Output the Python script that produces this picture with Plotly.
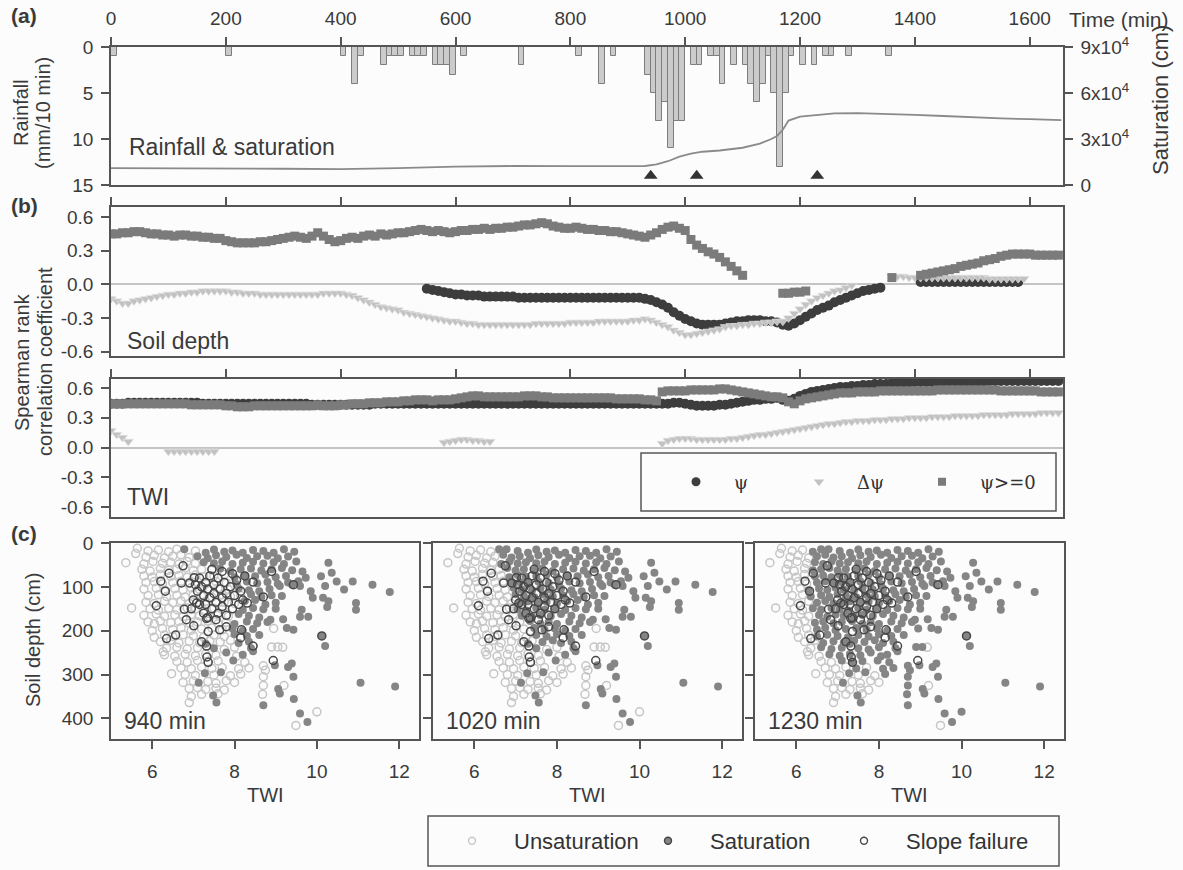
import plotly.graph_objects as go

# ---------------- DATA ----------------
# (a) rainfall bars (start time of 10-min interval) and saturation curve
rain_t = [0, 200, 400, 420, 430, 470, 480, 490, 500, 520, 530, 540, 560, 570, 580, 590, 610, 710, 810, 850, 870,
          930, 940, 950, 960, 970, 980, 990, 1010, 1020, 1040, 1050, 1060, 1080, 1100, 1110, 1120, 1130, 1140,
          1150, 1160, 1170, 1180, 1200, 1220, 1240, 1250, 1280, 1350]
rain_mm = [1, 1, 1, 4, 1, 2, 1, 1, 1, 1, 1, 1, 2, 2, 2, 3, 1, 2, 1, 4, 1,
           3, 5, 8, 6, 11, 8, 8, 2, 2, 1, 1, 4, 2, 2, 4, 6, 4, 1,
           5, 13, 5, 1, 2, 2, 1, 1, 1, 1]
sat_t = [0, 100, 200, 300, 400, 450, 500, 600, 700, 800, 850, 900, 930, 950, 970, 990, 1010, 1030, 1060, 1100,
         1130, 1150, 1160, 1170, 1180, 1200, 1230, 1260, 1300, 1350, 1400, 1450, 1500, 1550, 1600, 1655]
sat_cm = [11000, 11000, 10800, 10600, 10300, 10500, 11000, 12000, 12400, 12300, 12200, 12300, 12400, 13500, 15500,
          18500, 20500, 21700, 22500, 24300, 27000, 30000, 32000, 36000, 42000, 44600, 45800, 46700, 46900, 46500,
          45700, 45000, 44100, 43500, 42900, 42300]
event_t = [940, 1020, 1230]
event_level = 14

# (b) Spearman rank correlation, every 10 min from 0 to 1650
time_min = list(range(0, 1660, 10))
N = None
sd_psi = [N] * 50 + [
    N, N, N, N, N, -0.04, -0.05, -0.06, -0.07, -0.08,
    -0.09, -0.09, -0.10, -0.10, -0.10, -0.11, -0.11, -0.11, -0.11, -0.11,
    -0.11, -0.12, -0.12, -0.12, -0.12, -0.12, -0.12, -0.12, -0.12, -0.12,
    -0.12, -0.12, -0.12, -0.12, -0.12, -0.12, -0.12, -0.12, -0.12, -0.12,
    -0.12, -0.12, -0.12, -0.13, -0.14, -0.16, -0.18, -0.21, -0.25, -0.28,
    -0.31, -0.33, -0.35, -0.36, -0.36, -0.36, -0.36, -0.35, -0.34, -0.33,
    -0.33, -0.32, -0.32, -0.32, -0.33, -0.33, -0.34, -0.36, -0.37, -0.35,
    -0.32, -0.29, -0.26, -0.23, -0.21, -0.19, -0.16, -0.14, -0.12, -0.10,
    -0.08, -0.06, -0.05, -0.04, -0.03, N, N, N, N, N,
    N, 0.02, 0.02, 0.02, 0.02, 0.02, 0.02, 0.02, 0.02, 0.02,
    0.02, 0.02, 0.02, 0.02, 0.02, 0.02, 0.02, 0.02, 0.02, N,
    N, N, N, N, N, N]
sd_dpsi = [
    -0.13, -0.15, -0.17, -0.17, -0.15, -0.14, -0.13, -0.12, -0.11, -0.10,
    -0.09, -0.09, -0.08, -0.08, -0.07, -0.07, -0.06, -0.06, -0.06, -0.06,
    -0.06, -0.07, -0.07, -0.08, -0.08, -0.08, -0.09, -0.09, -0.09, -0.09,
    -0.09, -0.09, -0.09, -0.09, -0.09, -0.09, -0.09, -0.08, -0.08, -0.08,
    -0.08, -0.09, -0.10, -0.12, -0.14, -0.16, -0.18, -0.20, -0.21, -0.22,
    -0.23, -0.25, -0.26, -0.27, -0.28, -0.29, -0.30, -0.31, -0.32, -0.33,
    -0.33, -0.34, -0.35, -0.35, -0.36, -0.36, -0.36, -0.36, -0.36, -0.36,
    -0.36, -0.36, -0.36, -0.36, -0.35, -0.35, -0.35, -0.35, -0.35, -0.35,
    -0.34, -0.34, -0.34, -0.34, -0.34, -0.33, -0.33, -0.33, -0.33, -0.33,
    -0.33, -0.32, -0.32, -0.31, -0.32, -0.34, -0.36, -0.38, -0.41, -0.43,
    -0.45, -0.45, -0.44, -0.43, -0.42, -0.41, -0.40, -0.38, -0.37, -0.37,
    -0.36, -0.36, -0.35, -0.35, -0.34, -0.34, -0.33, -0.33, -0.30, -0.26,
    -0.22, -0.18, -0.15, -0.12, -0.10, -0.08, -0.06, -0.05, -0.03, -0.01,
    N, N, N, N, N, N, 0.07, 0.07, 0.07, 0.06,
    0.06, 0.06, 0.06, 0.06, 0.06, 0.06, 0.06, 0.06, 0.06, 0.06,
    0.06, 0.06, 0.06, 0.05, 0.05, 0.05, 0.05, 0.05, 0.05, 0.05,
    N, N, N, N, N, N]
sd_sat = [
    0.45, 0.45, 0.46, 0.46, 0.47, 0.47, 0.46, 0.45, 0.45, 0.44,
    0.44, 0.43, 0.44, 0.44, 0.43, 0.43, 0.42, 0.42, 0.41, 0.41,
    0.39, 0.38, 0.37, 0.37, 0.37, 0.37, 0.38, 0.38, 0.39, 0.40,
    0.41, 0.42, 0.43, 0.42, 0.41, 0.43, 0.46, 0.43, 0.40, 0.38,
    0.39, 0.41, 0.42, 0.41, 0.43, 0.44, 0.43, 0.45, 0.44, 0.45,
    0.46, 0.46, 0.47, 0.48, 0.49, 0.48, 0.47, 0.48, 0.47, 0.46,
    0.47, 0.48, 0.48, 0.49, 0.49, 0.50, 0.49, 0.50, 0.50, 0.51,
    0.51, 0.52, 0.53, 0.53, 0.54, 0.55, 0.54, 0.52, 0.51, 0.50,
    0.50, 0.51, 0.50, 0.49, 0.49, 0.48, 0.48, 0.47, 0.47, 0.46,
    0.45, 0.44, 0.43, 0.42, 0.44, 0.46, 0.49, 0.51, 0.52, 0.50,
    0.48, 0.40, 0.35, 0.32, 0.29, 0.27, 0.24, 0.20, 0.16, 0.12,
    0.08, N, N, N, N, N, N, -0.08, -0.08, -0.07,
    -0.07, -0.06, N, N, N, N, N, N, N, N,
    N, N, N, N, N, N, 0.06, N, N, N,
    N, 0.08, 0.09, 0.10, 0.11, 0.12, 0.13, 0.14, 0.16, 0.17,
    0.18, 0.19, 0.21, 0.22, 0.23, 0.25, 0.26, 0.27, 0.27, 0.27,
    0.27, 0.26, 0.26, 0.26, 0.26, 0.26]
twi_psi = [
    0.44, 0.44, 0.44, 0.45, 0.45, 0.45, 0.45, 0.45, 0.45, 0.45,
    0.45, 0.45, 0.45, 0.45, 0.45, 0.45, 0.44, 0.44, 0.44, 0.44,
    0.44, 0.44, 0.44, 0.44, 0.44, 0.44, 0.44, 0.44, 0.44, 0.44,
    0.44, 0.44, 0.44, 0.44, 0.44, 0.43, 0.43, 0.43, 0.43, 0.43,
    0.43, 0.43, 0.43, 0.43, 0.43, 0.43, 0.44, 0.44, 0.44, 0.44,
    0.44, 0.44, 0.44, 0.44, 0.44, 0.44, 0.44, 0.44, 0.44, 0.44,
    0.44, 0.44, 0.44, 0.44, 0.44, 0.44, 0.44, 0.44, 0.44, 0.44,
    0.44, 0.44, 0.44, 0.44, 0.44, 0.44, 0.44, 0.44, 0.44, 0.44,
    0.44, 0.44, 0.44, 0.44, 0.44, 0.44, 0.44, 0.44, 0.44, 0.44,
    0.44, 0.44, 0.44, 0.44, 0.44, 0.44, 0.44, 0.44, 0.45, 0.45,
    0.44, 0.43, 0.42, 0.42, 0.42, 0.42, 0.43, 0.43, 0.44, 0.45,
    0.46, 0.47, 0.48, 0.48, 0.49, 0.49, 0.50, 0.48, 0.47, 0.49,
    0.52, 0.54, 0.56, 0.57, 0.58, 0.59, 0.60, 0.61, 0.61, 0.62,
    0.62, 0.63, 0.63, 0.64, 0.64, 0.64, 0.65, 0.65, 0.65, 0.65,
    0.66, 0.66, 0.66, 0.66, 0.66, 0.66, 0.66, 0.66, 0.66, 0.66,
    0.66, 0.66, 0.66, 0.67, 0.67, 0.67, 0.67, 0.67, 0.67, 0.67,
    0.67, 0.67, 0.67, 0.67, 0.67, 0.67]
twi_dpsi = [
    0.17, 0.13, 0.10, 0.06, N, N, N, N, N, N,
    -0.04, -0.04, -0.04, -0.04, -0.04, -0.04, -0.04, -0.04, -0.04, N,
    N, N, N, N, N, N, N, N, N, N,
    N, N, N, N, N, N, N, N, N, N,
    N, N, N, N, N, N, N, N, N, N,
    N, N, N, N, N, N, N, N, 0.05, 0.06,
    0.07, 0.08, 0.08, 0.07, 0.07, 0.06, 0.06, N, N, N,
    N, N, N, N, N, N, N, N, N, N,
    N, N, N, N, N, N, N, N, N, N,
    N, N, N, N, N, N, 0.04, 0.07, 0.08, 0.09,
    0.09, 0.09, 0.08, 0.08, 0.08, 0.08, 0.08, 0.08, 0.09, 0.09,
    0.10, 0.11, 0.12, 0.13, 0.13, 0.14, 0.15, 0.16, 0.17, 0.18,
    0.19, 0.20, 0.21, 0.22, 0.23, 0.24, 0.24, 0.25, 0.26, 0.26,
    0.27, 0.27, 0.27, 0.28, 0.28, 0.28, 0.29, 0.29, 0.29, 0.30,
    0.30, 0.30, 0.30, 0.31, 0.31, 0.31, 0.31, 0.32, 0.32, 0.32,
    0.32, 0.32, 0.33, 0.33, 0.33, 0.33, 0.33, 0.34, 0.34, 0.34,
    0.34, 0.34, 0.35, 0.35, 0.35, 0.35]
twi_sat = [
    0.44, 0.44, 0.44, 0.44, 0.44, 0.44, 0.44, 0.44, 0.44, 0.44,
    0.44, 0.44, 0.44, 0.44, 0.43, 0.43, 0.43, 0.43, 0.43, 0.43,
    0.42, 0.42, 0.41, 0.41, 0.41, 0.42, 0.42, 0.42, 0.42, 0.42,
    0.42, 0.42, 0.42, 0.42, 0.42, 0.42, 0.43, 0.42, 0.42, 0.42,
    0.43, 0.43, 0.44, 0.44, 0.44, 0.45, 0.45, 0.45, 0.46, 0.46,
    0.46, 0.47, 0.47, 0.48, 0.48, 0.48, 0.47, 0.48, 0.48, 0.48,
    0.49, 0.50, 0.51, 0.52, 0.52, 0.51, 0.51, 0.51, 0.51, 0.51,
    0.51, 0.51, 0.52, 0.52, 0.52, 0.51, 0.51, 0.50, 0.50, 0.50,
    0.50, 0.50, 0.50, 0.50, 0.50, 0.50, 0.50, 0.50, 0.49, 0.49,
    0.49, 0.49, 0.49, 0.48, 0.48, 0.47, 0.56, 0.57, 0.57, 0.57,
    0.57, 0.58, 0.58, 0.58, 0.58, 0.58, 0.59, 0.59, 0.58, 0.57,
    0.56, 0.55, 0.54, 0.53, 0.52, 0.51, 0.51, 0.50, 0.46, 0.44,
    0.47, 0.49, 0.50, 0.51, 0.52, 0.53, 0.54, 0.55, 0.55, 0.55,
    0.56, 0.56, 0.56, 0.56, 0.57, 0.57, 0.57, 0.57, 0.57, 0.57,
    0.57, 0.57, 0.57, 0.57, 0.58, 0.58, 0.58, 0.58, 0.58, 0.58,
    0.58, 0.58, 0.58, 0.58, 0.58, 0.57, 0.57, 0.57, 0.57, 0.57,
    0.57, 0.57, 0.56, 0.56, 0.56, 0.56]

# (c) grid cells: TWI, soil depth (cm), time at which the cell becomes saturated (0 = never)
pt_twi = [
    5.64, 5.9, 6.15, 6.4, 6.6, 6.78, 7.05, 7.3, 7.5, 7.75, 7.95, 8.2, 8.45, 8.7, 8.95, 9.2, 9.45,
    5.6, 5.85, 6.05, 6.3, 6.5, 6.7, 6.9, 7.1, 7.35, 7.55, 7.8, 8.05, 8.3, 8.55, 8.8, 9.05, 9.3,
    5.36, 5.8, 6.02, 6.25, 6.45, 6.65, 6.85, 7.05, 7.25, 7.5, 7.7, 7.95, 8.2, 8.45, 8.7, 8.95, 9.2, 9.5, 10.28,
    5.75, 5.95, 6.2, 6.4, 6.6, 6.8, 7.0, 7.2, 7.45, 7.65, 7.9, 8.15, 8.4, 8.65, 8.9, 9.15, 9.4, 9.65, 10.36,
    5.8, 6.0, 6.2, 6.45, 6.65, 6.85, 7.05, 7.25, 7.5, 7.75, 8.0, 8.25, 8.5, 8.75, 9.0, 9.25, 9.73, 10.1,
    5.85, 6.05, 6.25, 6.5, 6.7, 6.9, 7.1, 7.3, 7.55, 7.8, 8.05, 8.3, 8.55, 8.8, 9.05, 9.3, 9.55, 10.48, 10.87,
    5.8, 6.1, 6.3, 6.55, 6.75, 6.95, 7.15, 7.4, 7.6, 7.85, 8.1, 8.35, 8.6, 8.85, 9.1, 9.4, 9.59, 9.85, 10.2, 10.66, 11.35,
    5.9, 6.15, 6.35, 6.6, 6.8, 7.0, 7.2, 7.45, 7.7, 7.9, 8.15, 8.4, 8.65, 8.9, 9.15, 9.9, 10.15, 11.77,
    5.85, 6.05, 6.3, 6.5, 6.7, 6.9, 7.1, 7.3, 7.55, 7.75, 8.0, 8.25, 8.5, 8.75, 9.0, 10.28, 10.95,
    5.5, 5.95, 6.15, 6.4, 6.6, 6.85, 7.05, 7.25, 7.5, 7.7, 7.95, 8.2, 8.45, 8.7, 9.0, 9.63, 10.25, 10.95,
    5.8, 6.1, 6.3, 6.55, 6.75, 6.95, 7.15, 7.4, 7.6, 7.85, 8.1, 8.35, 8.6, 8.87, 9.18, 9.59, 9.79,
    5.9, 6.05, 6.2, 6.45, 6.65, 6.9, 7.1, 7.35, 7.6, 7.8, 8.0, 8.3, 8.55, 8.8,
    6.0, 6.25, 6.5, 6.7, 6.95, 7.2, 7.45, 7.7, 7.95, 8.2, 8.45, 8.95, 9.27, 9.43,
    6.05, 6.3, 6.5, 6.75, 7.0, 7.25, 7.5, 7.75, 8.0, 8.3, 8.6, 10.12,
    6.2, 6.45, 6.65, 6.9, 7.15, 7.4, 7.65, 7.9, 8.1, 8.35,
    6.27, 6.35, 6.6, 6.85, 7.1, 7.3, 7.5, 7.75, 8.0, 8.4, 8.9, 9.05, 9.17, 10.2,
    6.3, 6.55, 6.8, 7.05, 7.3, 7.55, 7.8, 8.05, 8.2, 8.45,
    6.6, 6.85, 7.1, 7.35, 7.6, 7.97, 8.25, 8.7,
    6.7, 6.95, 7.2, 7.45, 7.7, 8.1, 8.35, 8.75, 8.98, 9.3,
    6.47, 6.8, 7.05, 7.28, 7.5, 7.67, 7.9, 8.15, 8.7, 9.39,
    6.75, 7.0, 7.13, 7.35, 7.55, 7.8, 8.0, 8.7, 9.2, 9.43,
    6.9, 7.1, 7.3, 7.55, 7.75, 9.06,
    6.95, 7.2, 7.48, 7.6, 8.68, 9.1,
    6.9, 7.56, 8.70, 9.44,
    9.59, 9.77, 10.0, 9.49, 11.9, 11.06]
pt_depth = [
    12, 18, 16, 20, 14, 14, 18, 22, 15, 20, 17, 22, 16, 18, 22, 14, 20,
    24, 32, 28, 34, 30, 27, 33, 30, 35, 28, 32, 27, 34, 30, 29, 35, 31,
    45, 48, 42, 46, 44, 48, 42, 47, 44, 46, 42, 48, 45, 43, 47, 44, 48, 42, 45,
    60, 64, 58, 62, 60, 57, 63, 60, 62, 58, 64, 60, 58, 63, 60, 57, 62, 65, 68,
    75, 78, 72, 76, 74, 78, 73, 77, 75, 72, 78, 74, 76, 72, 78, 75, 79, 76,
    90, 88, 93, 90, 87, 92, 89, 93, 88, 91, 94, 88, 92, 89, 93, 90, 87, 88, 88,
    105, 103, 108, 104, 107, 102, 106, 108, 103, 106, 104, 108, 110, 105, 98, 95, 98, 110, 98, 106, 95,
    120, 118, 122, 119, 123, 117, 121, 124, 118, 122, 120, 117, 123, 119, 121, 125, 125, 112,
    135, 138, 133, 136, 132, 138, 135, 133, 137, 134, 138, 132, 130, 140, 136, 133, 137,
    148, 150, 153, 149, 152, 148, 151, 154, 149, 152, 150, 153, 148, 151, 150, 152, 146, 152,
    165, 162, 167, 164, 168, 163, 166, 169, 164, 167, 162, 166, 170, 175, 174, 168, 168,
    180, 184, 178, 182, 179, 183, 180, 178, 184, 181, 185, 179, 183, 180,
    200, 195, 197, 193, 199, 196, 194, 198, 195, 200, 196, 195, 194, 198,
    215, 210, 213, 209, 212, 215, 210, 213, 208, 212, 210, 212,
    225, 222, 228, 224, 227, 223, 226, 222, 228, 225,
    248, 240, 238, 242, 239, 230, 240, 243, 238, 240, 237, 237, 238, 235,
    255, 258, 254, 257, 253, 256, 250, 258, 255, 247,
    270, 272, 268, 271, 269, 268, 272, 280,
    285, 287, 283, 286, 284, 287, 285, 290, 279, 283,
    298, 300, 302, 297, 301, 295, 303, 299, 305, 275,
    318, 315, 319, 316, 320, 314, 318, 325, 325, 305,
    332, 330, 334, 331, 335, 333,
    350, 345, 348, 344, 345, 343,
    364, 364, 370, 356,
    389, 408, 385, 416, 327, 319]
pt_sat_from = [
    0, 0, 0, 1230, 1020, 940, 1020, 940, 940, 940, 940, 940, 940, 940, 940, 940, 940,
    0, 0, 0, 0, 1230, 1020, 1020, 940, 940, 940, 940, 940, 940, 940, 940, 940, 940,
    0, 0, 0, 0, 1230, 1020, 1020, 1020, 940, 940, 940, 940, 940, 940, 940, 940, 940, 940, 940,
    0, 0, 0, 1230, 1230, 1020, 1020, 1020, 1020, 940, 940, 940, 940, 940, 940, 940, 940, 940, 940,
    0, 0, 0, 1230, 1230, 1020, 1020, 1020, 1020, 1020, 940, 940, 940, 940, 940, 940, 940, 940,
    0, 0, 0, 1230, 1230, 1020, 1020, 1020, 1020, 1020, 940, 940, 940, 940, 940, 940, 940, 940, 940,
    0, 0, 1230, 1230, 1230, 1020, 1020, 1020, 1020, 1020, 940, 940, 940, 940, 940, 940, 940, 940, 940, 940, 940,
    0, 0, 1230, 1230, 1230, 1020, 1020, 1020, 1020, 1020, 1020, 940, 940, 940, 940, 940, 940, 940,
    0, 0, 0, 1230, 1230, 1230, 1020, 1020, 1020, 1020, 1020, 940, 940, 940, 940, 940, 940,
    0, 0, 0, 1230, 1230, 1230, 1020, 1020, 1020, 1020, 1020, 940, 940, 940, 940, 940, 940, 940,
    0, 0, 0, 1230, 1230, 1230, 1020, 1020, 1020, 1020, 940, 940, 940, 940, 940, 940, 940,
    0, 0, 0, 1230, 1230, 1230, 1230, 1020, 1020, 1020, 940, 940, 940, 940,
    0, 0, 1230, 1230, 1230, 1230, 1020, 1020, 940, 940, 940, 1230, 940, 940,
    0, 0, 1230, 1230, 1230, 1230, 1020, 1020, 940, 940, 940, 940,
    0, 0, 1230, 1230, 1230, 1230, 1020, 1020, 940, 940,
    0, 0, 1230, 1230, 1230, 940, 940, 1230, 1230, 940, 1230, 1230, 0, 940,
    0, 0, 1230, 1230, 1230, 1230, 940, 1230, 940, 940,
    0, 0, 1230, 1230, 1230, 940, 1230, 1230,
    0, 0, 0, 1230, 0, 1230, 1230, 1230, 940, 940,
    0, 0, 0, 940, 0, 940, 0, 1230, 1230, 940,
    0, 0, 940, 0, 0, 0, 0, 1230, 0, 940,
    0, 0, 0, 0, 0, 940,
    0, 0, 940, 0, 1230, 940,
    0, 940, 940, 940,
    940, 940, 1230, 0, 940, 940]
fail_twi = [6.21, 6.32, 6.1, 6.35, 6.57, 6.75, 6.41, 6.71, 6.91, 7.02, 6.78, 7.08, 6.83, 7.01, 7.32, 7.36,
            7.2, 7.32, 7.33, 7.36, 7.64, 7.8, 8.17, 8.15, 8.45, 8.94, 9.43, 8.9, 8.45, 8.31, 8.7, 10.12,
            7.05, 7.1, 7.15, 7.2, 7.25, 7.3, 7.3, 7.35, 7.4, 7.4, 7.45, 7.5, 7.5, 7.55, 7.6, 7.6, 7.65, 7.7,
            7.7, 7.75, 7.8, 7.8, 7.85, 7.9, 7.95, 8.0, 8.05, 8.1, 8.15, 8.2, 7.25, 7.35, 7.55, 7.0, 6.95,
            7.15, 7.45, 7.7, 7.95, 8.25]
fail_depth = [87, 110, 143, 218, 210, 52, 69, 91, 91, 79, 151, 137, 175, 189, 172, 202,
              225, 235, 260, 272, 198, 191, 198, 216, 235, 268, 95, 65, 89, 137, 123, 212,
              95, 110, 80, 100, 120, 90, 140, 105, 75, 125, 150, 95, 115, 135, 80, 160, 105, 125,
              145, 90, 115, 165, 135, 100, 150, 120, 85, 140, 110, 130, 160, 170, 175, 130, 150,
              140, 60, 65, 70, 75]
snapshot_times = [940, 1020, 1230]
snapshot_labels = ["940 min", "1020 min", "1230 min"]

assert len(pt_twi) == len(pt_depth) == len(pt_sat_from)
assert len(fail_twi) == len(fail_depth)
for s in (sd_psi, sd_dpsi, sd_sat, twi_psi, twi_dpsi, twi_sat):
    assert len(s) == len(time_min), len(s)

# ---------------- STYLE / LAYOUT ----------------
W, H = 1183, 870
def fx(p): return p / W
def fy(p): return 1 - p / H

FONT = "Liberation Sans"
SERIF = "DejaVu Serif"
TXT = "#3a3a3a"
LINE = "#555555"
C_PSI, C_DPSI, C_SAT = "#3d3d3d", "#c2c2c2", "#7b7b7b"
C_UNS, C_SATP, C_FAIL = "#c6c6c6", "#858585", "#474747"

fig = go.Figure()

# (a)
fig.add_trace(go.Bar(x=rain_t, y=rain_mm, width=10, offset=0, xaxis="x", yaxis="y",
                     marker=dict(color="#cbcbcb", line=dict(color="#7d7d7d", width=1)), showlegend=False))
fig.add_trace(go.Scatter(x=sat_t, y=sat_cm, mode="lines", xaxis="x", yaxis="y2",
                         line=dict(color="#8a8a8a", width=1.8), showlegend=False))
fig.add_trace(go.Scatter(x=event_t, y=[event_level] * len(event_t), mode="markers", xaxis="x", yaxis="y",
                         marker=dict(symbol="triangle-up", size=12, color="#333333"), showlegend=False))

# (b)
def corr_traces(xa, ya, psi, dpsi, sat, psi_first):
    t_psi = go.Scatter(x=time_min, y=psi, mode="markers", xaxis=xa, yaxis=ya, showlegend=False,
                       marker=dict(symbol="circle", size=10, color=C_PSI))
    t_dpsi = go.Scatter(x=time_min, y=dpsi, mode="markers", xaxis=xa, yaxis=ya, showlegend=False,
                        marker=dict(symbol="triangle-down", size=9, color=C_DPSI,
                                    line=dict(color="#e6e6e6", width=0.6)))
    t_sat = go.Scatter(x=time_min, y=sat, mode="markers", xaxis=xa, yaxis=ya, showlegend=False,
                       marker=dict(symbol="square", size=9, color=C_SAT))
    order = [t_psi, t_dpsi, t_sat] if psi_first else [t_dpsi, t_psi, t_sat]
    for tr in order:
        fig.add_trace(tr)

corr_traces("x2", "y3", sd_psi, sd_dpsi, sd_sat, True)
corr_traces("x3", "y4", twi_psi, twi_dpsi, twi_sat, False)

# (c)
for k, t in enumerate(snapshot_times):
    xa, ya = "x%d" % (4 + k), "y%d" % (5 + k)
    ux = [a for a, s in zip(pt_twi, pt_sat_from) if not (s and s <= t)]
    uy = [d for d, s in zip(pt_depth, pt_sat_from) if not (s and s <= t)]
    sx = [a for a, s in zip(pt_twi, pt_sat_from) if s and s <= t]
    sy = [d for d, s in zip(pt_depth, pt_sat_from) if s and s <= t]
    fig.add_trace(go.Scatter(x=ux, y=uy, mode="markers", xaxis=xa, yaxis=ya, showlegend=False,
                             marker=dict(symbol="circle-open", size=8, color=C_UNS, line=dict(width=1.5))))
    fig.add_trace(go.Scatter(x=sx, y=sy, mode="markers", xaxis=xa, yaxis=ya, showlegend=False,
                             marker=dict(symbol="circle", size=8, color=C_SATP)))
    fig.add_trace(go.Scatter(x=fail_twi, y=fail_depth, mode="markers", xaxis=xa, yaxis=ya, showlegend=False,
                             marker=dict(symbol="circle-open", size=8, color=C_FAIL, line=dict(width=1.5))))

# legend entries
SP = "\u2002\u2002"
for name, sym, size, col in ((SP + "ψ", "circle", 9, C_PSI), (SP + "Δψ", "triangle-down", 9, C_DPSI),
                             (SP + "ψ>=0", "square", 8, C_SAT)):
    fig.add_trace(go.Scatter(x=[None], y=[None], mode="markers", xaxis="x3", yaxis="y4", name=name,
                             legend="legend", marker=dict(symbol=sym, size=size, color=col)))
for name, sym, col in ((SP + "Unsaturation", "circle-open", C_UNS), (SP + "Saturation", "circle", C_SATP),
                       (SP + "Slope failure", "circle-open", C_FAIL)):
    fig.add_trace(go.Scatter(x=[None], y=[None], mode="markers", xaxis="x4", yaxis="y5", name=name,
                             legend="legend2", marker=dict(symbol=sym, size=7, color=col, line=dict(width=1.4))))

AX = dict(showline=True, linecolor=LINE, linewidth=1.5, mirror=True, ticks="outside", tickcolor=LINE,
          tickwidth=1.5, ticklen=8, showgrid=False, zeroline=False, automargin=False,
          tickfont=dict(family=FONT, size=19, color=TXT))
tx = [0, 200, 400, 600, 800, 1000, 1200, 1400, 1600]
xr = [0, 1658]
dom_x = [fx(111), fx(1063)]
corr_vals = [-0.6, -0.3, 0.0, 0.3, 0.6]
corr_text = ["-0.6", "-0.3", "0.0", "0.3", "0.6"]

layout = dict(
    width=W, height=H, autosize=False, margin=dict(l=0, r=0, t=0, b=0, pad=0, autoexpand=False),
    paper_bgcolor="#fcfcfc", plot_bgcolor="#fcfcfc", bargap=0,
    xaxis=dict(AX, domain=dom_x, range=xr, tickvals=tx, side="top", anchor="y", ticklabelstandoff=5),
    yaxis=dict(AX, domain=[fy(185), fy(47)], range=[15, 0], tickvals=[0, 5, 10, 15], anchor="x",
               ticklabelstandoff=4),
    yaxis2=dict(AX, overlaying="y", side="right", anchor="x", range=[0, 90000], mirror=False,
                tickvals=[0, 30000, 60000, 90000],
                ticktext=["0", "3x10<sup>4</sup>", "6x10<sup>4</sup>", "9x10<sup>4</sup>"], ticklabelstandoff=4),
    xaxis2=dict(AX, domain=dom_x, range=xr, tickvals=tx, side="top", anchor="y3", showticklabels=False),
    yaxis3=dict(AX, domain=[fy(356), fy(207)], range=[-0.64, 0.69], anchor="x2", tickvals=corr_vals,
                ticktext=corr_text, zeroline=True, zerolinecolor="#c4c4c4", zerolinewidth=1.5, ticklabelstandoff=4),
    xaxis3=dict(AX, domain=dom_x, range=xr, tickvals=tx, side="top", anchor="y4", showticklabels=False),
    yaxis4=dict(AX, domain=[fy(517), fy(379)], range=[-0.70, 0.69], anchor="x3", tickvals=corr_vals,
                ticktext=corr_text, zeroline=True, zerolinecolor="#c4c4c4", zerolinewidth=1.5, ticklabelstandoff=4),
    legend=dict(x=fx(676), y=fy(482), xanchor="left", yanchor="middle", orientation="h",
                font=dict(family=SERIF, size=18, color="#333333"), bgcolor="rgba(0,0,0,0)",
                borderwidth=0, entrywidth=78, entrywidthmode="pixels", traceorder="normal"),
    legend2=dict(x=fx(452), y=fy(841), xanchor="left", yanchor="middle", orientation="h",
                 font=dict(family=FONT, size=22, color="#333333"), bgcolor="rgba(0,0,0,0)",
                 borderwidth=0, entrywidth=151, entrywidthmode="pixels", traceorder="normal"),
)
c_dom = [[111, 419], [433, 742], [755, 1064]]
for k in range(3):
    layout["xaxis%d" % (4 + k)] = dict(AX, domain=[fx(c_dom[k][0]), fx(c_dom[k][1])], range=[5, 12.48],
                                       tickvals=[6, 8, 10, 12], anchor="y%d" % (5 + k), ticklabelstandoff=6)
    layout["yaxis%d" % (5 + k)] = dict(AX, domain=[fy(739), fy(543)], range=[447, 0],
                                       tickvals=[0, 100, 200, 300, 400], anchor="x%d" % (4 + k),
                                       showticklabels=(k == 0), ticklabelstandoff=4)
fig.update_layout(**layout)

def ann(text, x, y, size=20, angle=0, xanchor="center", bold=False, family=FONT):
    fig.add_annotation(text=("<b>%s</b>" % text) if bold else text, x=fx(x), y=fy(y), xref="paper",
                       yref="paper", showarrow=False, textangle=angle, xanchor=xanchor, yanchor="middle",
                       font=dict(family=family, size=size, color=TXT))

ann("(a)", 24, 15, 21, bold=True)
ann("(b)", 24, 205, 21, bold=True)
ann("(c)", 24, 533, 21, bold=True)
ann("Time (min)", 1119, 20, 21)
ann("Rainfall", 21, 113, 20, -90)
ann("(mm/10 min)", 43, 113, 20, -90)
ann("Saturation (cm)", 1161, 100, 22, -90)
ann("Rainfall &amp; saturation", 127, 147, 23, xanchor="left")
ann("Soil depth", 125, 341, 23, xanchor="left")
ann("TWI", 125, 497, 23, xanchor="left")
ann("Spearman rank", 22, 362, 20, -90)
ann("correlation coefficient", 45, 362, 20, -90)
ann("Soil depth (cm)", 33, 640, 20, -90)
for k in range(3):
    ann("TWI", (c_dom[k][0] + c_dom[k][1]) / 2, 795, 20)
    ann(snapshot_labels[k], c_dom[k][0] + 11, 721, 23, xanchor="left")

for (x0, y0, x1, y1) in ((641, 453, 1056, 511), (428, 816, 1059, 866)):
    fig.add_shape(type="rect", xref="paper", yref="paper", x0=fx(x0), x1=fx(x1), y0=fy(y1), y1=fy(y0),
                  line=dict(color=LINE, width=1.5), fillcolor="rgba(0,0,0,0)")

fig.write_html("out.html", config={"displayModeBar": False},
               post_script="document.body.style.margin='0';document.body.style.overflow='hidden';")
